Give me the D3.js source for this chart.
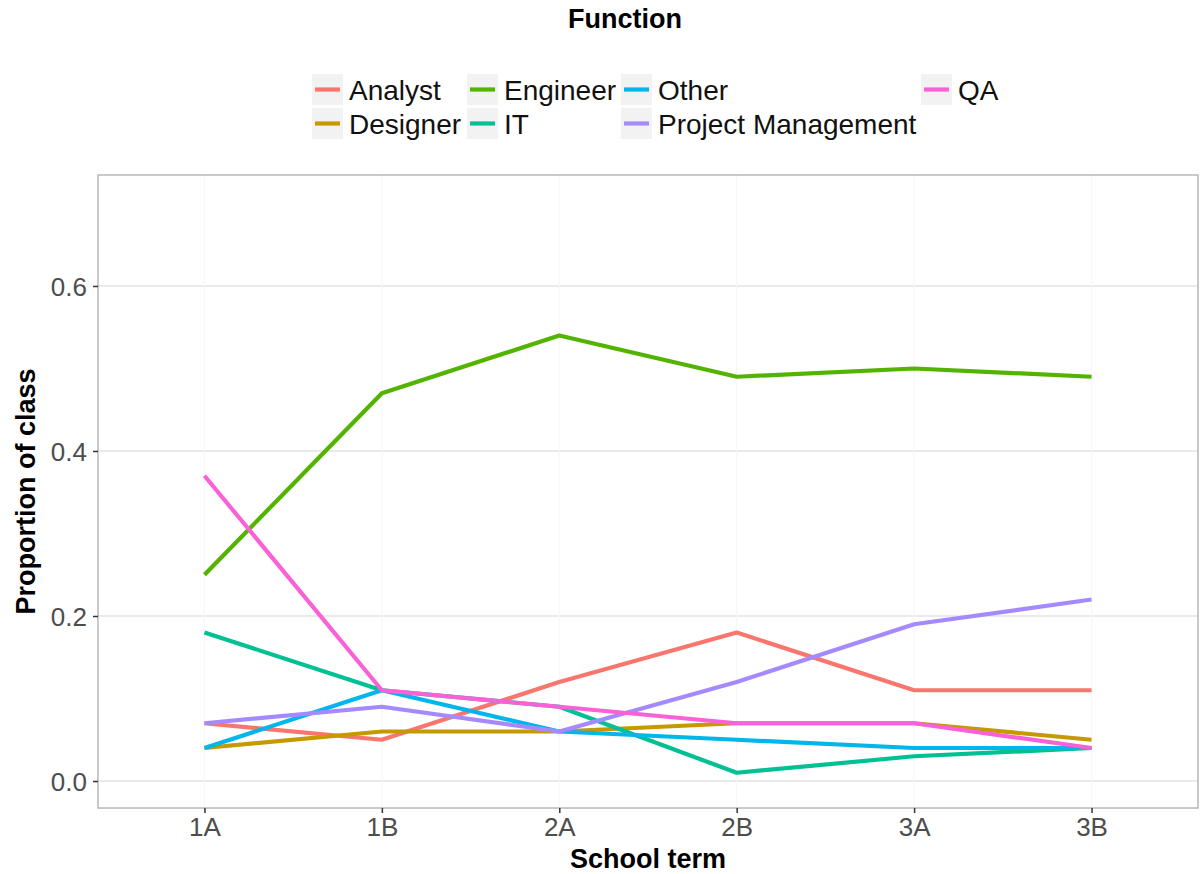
<!DOCTYPE html>
<html><head><meta charset="utf-8">
<script src="https://cdn.jsdelivr.net/npm/d3@7"></script>
<style>body{margin:0;background:#fff}svg{display:block}text{font-family:"Liberation Sans",Arial,sans-serif}</style>
</head><body><svg id="c" width="1203" height="874"></svg>
<script>
const terms = ["1A","1B","2A","2B","3A","3B"];
const seriesNames = ["Analyst","Designer","Engineer","IT","Other","Project Management","QA"];
const seriesColors = ["#F8766D","#C49A00","#53B400","#00C094","#00B6EB","#A58AFF","#FB61D7"];
const analyst  = [0.07,0.05,0.12,0.18,0.11,0.11];
const designer = [0.04,0.06,0.06,0.07,0.07,0.05];
const engineer = [0.25,0.47,0.54,0.49,0.50,0.49];
const it       = [0.18,0.11,0.09,0.01,0.03,0.04];
const other    = [0.04,0.11,0.06,0.05,0.04,0.04];
const pm       = [0.07,0.09,0.06,0.12,0.19,0.22];
const qa       = [0.37,0.11,0.09,0.07,0.07,0.04];
const yTicks = [0.0,0.2,0.4,0.6];
const seriesValues = [analyst,designer,engineer,it,other,pm,qa];

const svg = d3.select("#c");
const L=98,R=1198,T=175,B=808;
const x = d3.scalePoint().domain(terms).range([L,R]).padding(0.6);
const y = d3.scaleLinear().domain([-0.0327,0.7345]).range([B,T]);

// grid
svg.append("g").selectAll("line").data(yTicks).join("line")
  .attr("x1",L).attr("x2",R).attr("y1",d=>y(d)).attr("y2",d=>y(d))
  .attr("stroke","#E3E3E3").attr("stroke-width",1.5);
svg.append("g").selectAll("line").data(terms).join("line")
  .attr("x1",d=>x(d)).attr("x2",d=>x(d)).attr("y1",T).attr("y2",B)
  .attr("stroke","#F7F7F7").attr("stroke-width",1.2);

// lines
const line = d3.line().x((d,i)=>x(terms[i])).y(d=>y(d));
svg.append("g").selectAll("path").data(seriesValues).join("path")
  .attr("d",d=>line(d)).attr("fill","none")
  .attr("stroke",(d,i)=>seriesColors[i]).attr("stroke-width",4.2)
  .attr("stroke-linejoin","round");

// border
svg.append("rect").attr("x",L).attr("y",T).attr("width",R-L).attr("height",B-T)
  .attr("fill","none").attr("stroke","#B8B8B8").attr("stroke-width",1.5);

// axes
const yAxis = svg.append("g").attr("transform",`translate(${L},0)`)
  .call(d3.axisLeft(y).tickValues(yTicks).tickFormat(d3.format(".1f")).tickSize(5).tickPadding(6));
const xAxis = svg.append("g").attr("transform",`translate(0,${B})`)
  .call(d3.axisBottom(x).tickSize(5).tickPadding(5));
[yAxis,xAxis].forEach(a=>{
  a.select(".domain").remove();
  a.selectAll(".tick line").attr("stroke","#333").attr("stroke-width",1.5);
  a.selectAll(".tick text").attr("fill","#4D4D4D").style("font-size","26px").style("font-family","Liberation Sans, Arial, sans-serif");
});
yAxis.selectAll(".tick text").attr("dy","0.36em");
xAxis.selectAll(".tick text").attr("dy","0.71em");

// axis titles
svg.append("text").attr("x",(L+R)/2).attr("y",868).attr("text-anchor","middle")
  .style("font-size","27px").style("font-weight","bold").text("School term");
svg.append("text").attr("transform",`translate(35,${(T+B)/2}) rotate(-90)`).attr("text-anchor","middle")
  .style("font-size","27px").style("font-weight","bold").text("Proportion of class");

// legend
svg.append("text").attr("x",625).attr("y",28).attr("text-anchor","middle")
  .style("font-size","27px").style("font-weight","bold").text("Function");
const colX = [312,467,621,921];
const rowY = [74,108];
const order = [[0,1],[2,3],[4,5],[6]];
const lg = svg.append("g");
order.forEach((col,ci)=>col.forEach((si,ri)=>{
  const gx=colX[ci], gy=rowY[ri];
  lg.append("rect").attr("x",gx).attr("y",gy).attr("width",31).attr("height",31).attr("fill","#F2F2F2");
  lg.append("line").attr("x1",gx+3).attr("x2",gx+28).attr("y1",gy+15.5).attr("y2",gy+15.5)
    .attr("stroke",seriesColors[si]).attr("stroke-width",4.2);
  lg.append("text").attr("x",gx+37).attr("y",gy+26).style("font-size","28px").attr("fill","#111")
    .text(seriesNames[si]);
}));
</script></body></html>
